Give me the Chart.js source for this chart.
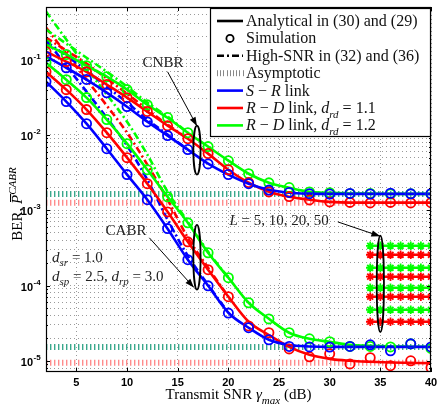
<!DOCTYPE html>
<html><head><meta charset="utf-8">
<script src="https://cdn.jsdelivr.net/npm/chart.js@4.4.1/dist/chart.umd.min.js"></script>
<style>html,body{margin:0;padding:0;background:#fff}canvas{display:block}</style>
</head><body>
<canvas id="c" width="438" height="406"></canvas>
<script>
// transmit SNR grid (dB)
const snrDb = [2,4,6,8,10,12,14,16,18,20,22,24,26,28,30,32,34,36,38,40];
const hiSnrDb = [2,4,6,8,10,12,14,16,18,20];

// CNBR analytical
const cnbrSR   = [0.110,0.078,0.0542,0.0364,0.0237,0.0150,0.00977,0.00637,0.00416,0.00297,0.00225,0.00187,0.00171,0.00166,0.00165,0.00165,0.00165,0.00165,0.00165,0.00165];
const cnbrRD11 = [0.128,0.094,0.069,0.0466,0.0313,0.0204,0.0133,0.00891,0.00564,0.00345,0.00232,0.00176,0.00151,0.00138,0.00129,0.00126,0.00126,0.00126,0.00126,0.00126];
const cnbrRD12 = [0.158,0.117,0.083,0.0594,0.0399,0.0252,0.0169,0.0107,0.00698,0.00455,0.00305,0.00232,0.00199,0.00176,0.00170,0.00167,0.00166,0.00165,0.00165,0.00165];
// CABR analytical
const cabrSR   = [0.0511,0.0277,0.0141,0.00656,0.00297,0.00138,5.68e-4,2.20e-4,9.93e-5,4.35e-5,2.75e-5,1.90e-5,1.62e-5,1.55e-5,1.53e-5,1.53e-5,1.53e-5,1.53e-5,1.53e-5,1.53e-5];
const cabrRD11 = [0.069,0.0399,0.0217,0.0107,0.00499,0.00225,9.55e-4,3.81e-4,1.62e-4,7.09e-5,3.3e-5,2.2e-5,1.53e-5,1.20e-5,1.06e-5,1.0e-5,9.7e-6,9.5e-6,9.4e-6,9.3e-6];
const cabrRD12 = [0.0912,0.0542,0.0313,0.0160,0.00766,0.00345,0.00151,6.83e-4,2.72e-4,1.27e-4,5.90e-5,3.62e-5,2.36e-5,1.96e-5,1.79e-5,1.63e-5,1.58e-5,1.55e-5,1.54e-5,1.53e-5];

// simulation markers
const simCnbrSR   = [0.110,0.078,0.0545,0.0362,0.0238,0.0149,0.0098,0.0064,0.00412,0.00298,0.00225,0.00185,0.00172,0.00166,0.00164,0.00167,0.00164,0.00168,0.00165,0.00166];
const simCnbrRD11 = [0.128,0.094,0.0688,0.0468,0.0312,0.0205,0.0132,0.0089,0.00566,0.00344,0.00233,0.00175,0.00152,0.00137,0.00129,0.00127,0.00125,0.00127,0.00125,0.00126];
const simCnbrRD12 = [0.158,0.117,0.0832,0.0592,0.0400,0.0251,0.0170,0.0107,0.00700,0.00453,0.00306,0.00231,0.00200,0.00175,0.00171,0.00166,0.00167,0.00164,0.00166,0.00164];
const simCabrSR   = [0.0511,0.0277,0.0141,0.00656,0.00297,0.00138,5.7e-4,2.2e-4,9.9e-5,4.3e-5,2.75e-5,1.9e-5,1.55e-5,1.53e-5,1.52e-5,1.55e-5,1.63e-5,1.36e-5,1.68e-5,1.53e-5];
const simCabrRD11 = [0.069,0.0399,0.0217,0.0107,0.00499,0.00225,9.5e-4,3.8e-4,1.62e-4,7.1e-5,2.9e-5,2.36e-5,1.44e-5,1.13e-5,1.24e-5,9.1e-6,1.10e-5,8.6e-6,1.0e-5,8.1e-6];
const simCabrRD12 = [0.0912,0.0542,0.0313,0.0160,0.00766,0.00345,0.00151,6.8e-4,2.72e-4,1.27e-4,5.9e-5,3.6e-5,2.36e-5,1.96e-5,1.79e-5,1.55e-5,1.55e-5,1.53e-5,1.68e-5,1.46e-5];

// high-SNR approximations
const hiCnbrSR   = [0.173,0.113,0.0714,0.0438,0.0269,0.0160,0.0101,0.00637];
const hiCnbrRD11 = [0.196,0.132,0.0885,0.0560,0.0353,0.0217,0.0137,0.00891];
const hiCnbrRD12 = [0.251,0.163,0.106,0.069,0.0438,0.0269,0.0175,0.0107];
const hiCabrSR   = [0.185,0.083,0.0376,0.0169,0.00719,0.00254,7.48e-4,2.48e-4,1.02e-4,4.35e-5];
const hiCabrRD11 = [0.266,0.120,0.0542,0.0245,0.0107,0.00403,0.00138,4.31e-4,1.72e-4,7.09e-5];
const hiCabrRD12 = [0.435,0.185,0.078,0.0343,0.0150,0.00547,0.00176,7.03e-4,2.81e-4,1.27e-4];

// asymptotic floors
const asymX = [2, 40];
const asymCnbr = [1.64e-3, 1.26e-3];   // S-R & d_rd=1.2, d_rd=1.1
const asymCabr = [1.53e-5, 9.4e-6];

// L = 5, 10, 20, 50 cluster
const clusterX = [34,35,36,37,38,39,40];
const clusterRD12 = [3.37e-4, 1.72e-4, 9.33e-5, 4.76e-5];
const clusterRD11 = [2.56e-4, 1.31e-4, 7.09e-5, 3.30e-5];

// ticks
const xTicks = [5,10,15,20,25,30,35,40];
const yDecades = [1e-5,1e-4,1e-3,1e-2,1e-1];
const yExpLabels = ['-5','-4','-3','-2','-1'];
const yMin = 7.1e-6, yMax = 0.5;

const BLUE = '#0000ff', RED = '#ff0000', GREEN = '#00ff00';
const TEAL = '#3aa88c', PINK = '#ff8c8c';
const SERIF = '"Liberation Serif","Times New Roman",serif';
const SANS = '"Liberation Sans",Arial,sans-serif';

const xy = (xs, ys) => ys.map((v, i) => ({x: xs[i], y: v}));
const flat = (xs, v) => xs.map(x => ({x, y: v}));

function solid(ys, c) {
  return {data: xy(snrDb, ys), borderColor: c, borderWidth: 2.6, pointRadius: 0, cubicInterpolationMode: 'monotone', order: 2};
}
function sim(ys, c) {
  return {data: xy(snrDb, ys), showLine: false, borderColor: c, backgroundColor: 'rgba(0,0,0,0)', pointRadius: 4.6, pointBorderWidth: 1.8, order: 0};
}
function hi(ys, c) {
  return {data: xy(hiSnrDb, ys), borderColor: c, borderWidth: 2.6, borderDash: [7,3,2,3], pointRadius: 0, cubicInterpolationMode: 'monotone', order: 3};
}
function asym(v, c) {
  return {data: flat(asymX, v), borderColor: c, borderWidth: 6, borderDash: [1.4, 2.6], borderCapStyle: 'butt', pointRadius: 0, order: 4};
}
function cluster(v, c) {
  return {data: flat(clusterX, v), borderColor: c, borderWidth: 2.6, pointStyle: 'star', pointRadius: 4.2, pointBorderWidth: 1.8, order: 1};
}

const datasets = [
  asym(asymCnbr[0], TEAL), asym(asymCnbr[1], PINK), asym(asymCabr[0], TEAL), asym(asymCabr[1], PINK),
  hi(hiCnbrSR.slice(), BLUE), hi(hiCnbrRD11, RED), hi(hiCnbrRD12, GREEN),
  hi(hiCabrSR, BLUE), hi(hiCabrRD11, RED), hi(hiCabrRD12, GREEN),
  solid(cnbrSR, BLUE), solid(cnbrRD11, RED), solid(cnbrRD12, GREEN),
  solid(cabrSR, BLUE), solid(cabrRD11, RED), solid(cabrRD12, GREEN),
  sim(simCnbrSR, BLUE), sim(simCnbrRD11, RED), sim(simCnbrRD12, GREEN),
  sim(simCabrSR, BLUE), sim(simCabrRD11, RED), sim(simCabrRD12, GREEN)
];
clusterRD12.forEach(v => datasets.push(cluster(v, GREEN)));
clusterRD11.forEach(v => datasets.push(cluster(v, RED)));

// rich text: n normal, i italic, b italic subscript, p italic superscript, o italic overlined
function rich(ctx, x, y, parts, size, align) {
  const fontOf = k => (k === 'n' ? '' : 'italic ') + ((k === 'b' || k === 'p') ? Math.round(size * 0.7) : size) + 'px ' + SERIF;
  let w = 0;
  for (const [t, k] of parts) { ctx.font = fontOf(k); w += ctx.measureText(t).width; }
  let cx = align === 'center' ? x - w / 2 : x;
  ctx.textAlign = 'left'; ctx.textBaseline = 'alphabetic';
  for (const [t, k] of parts) {
    ctx.font = fontOf(k);
    const dy = k === 'b' ? size * 0.3 : k === 'p' ? -size * 0.42 : 0;
    ctx.fillText(t, cx, y + dy);
    const tw = ctx.measureText(t).width;
    if (k === 'o') { ctx.fillRect(cx + 2, y - size * 0.8, tw - 1, 1.1); }
    cx += tw;
  }
  return w;
}

function arrow(ctx, x0, y0, x1, y1) {
  ctx.beginPath(); ctx.moveTo(x0, y0); ctx.lineTo(x1, y1); ctx.stroke();
  const a = Math.atan2(y1 - y0, x1 - x0), L = 9, W = 3.2;
  ctx.beginPath();
  ctx.moveTo(x1, y1);
  ctx.lineTo(x1 - L * Math.cos(a) + W * Math.sin(a), y1 - L * Math.sin(a) - W * Math.cos(a));
  ctx.lineTo(x1 - L * Math.cos(a) - W * Math.sin(a), y1 - L * Math.sin(a) + W * Math.cos(a));
  ctx.closePath(); ctx.fill();
}

const decor = {
  id: 'decor',
  beforeDraw(chart) {
    const ctx = chart.ctx;
    ctx.save(); ctx.fillStyle = '#fff'; ctx.fillRect(0, 0, chart.width, chart.height); ctx.restore();
  },
  afterDraw(chart) {
    const {ctx, chartArea: a, scales: {x, y}} = chart;
    ctx.save();
    ctx.strokeStyle = '#000'; ctx.fillStyle = '#000'; ctx.lineWidth = 1;

    // inward ticks
    ctx.beginPath();
    xTicks.forEach(v => {
      const px = Math.round(x.getPixelForValue(v)) + 0.5;
      ctx.moveTo(px, a.bottom); ctx.lineTo(px, a.bottom - 4);
      ctx.moveTo(px, a.top); ctx.lineTo(px, a.top + 4);
    });
    y.ticks.forEach(t => {
      const py = Math.round(y.getPixelForValue(t.value)) + 0.5;
      const len = yDecades.includes(t.value) ? 4 : 2;
      ctx.moveTo(a.left, py); ctx.lineTo(a.left + len, py);
      ctx.moveTo(a.right, py); ctx.lineTo(a.right - len, py);
    });
    ctx.stroke();

    // frame
    ctx.lineWidth = 1.2;
    ctx.strokeRect(Math.round(a.left) + 0.5, Math.round(a.top) + 0.5, Math.round(a.width) - 1, Math.round(a.height) - 1);

    // tick labels
    ctx.textAlign = 'center'; ctx.textBaseline = 'middle';
    ctx.font = 'bold 11px ' + SANS;
    xTicks.forEach(v => ctx.fillText(String(v), x.getPixelForValue(v), a.bottom + 11));
    yDecades.forEach((v, i) => {
      const py = y.getPixelForValue(v);
      ctx.textAlign = 'right'; ctx.font = 'bold 11px ' + SANS;
      ctx.fillText('10', a.left - 13, py + 2);
      ctx.textAlign = 'left'; ctx.font = 'bold 8px ' + SANS;
      ctx.fillText(yExpLabels[i], a.left - 12.5, py - 3);
    });

    // axis titles
    rich(ctx, (a.left + a.right) / 2, a.bottom + 27, [['Transmit SNR ', 'n'], ['γ', 'i'], ['max', 'b'], [' (dB)', 'n']], 15, 'center');
    ctx.save();
    ctx.translate(22, 204); ctx.rotate(-Math.PI / 2);
    rich(ctx, 0, 0, [['BER, ', 'n'], ['P', 'o'], ['CABR', 'p']], 15, 'center');
    ctx.restore();

    // ellipses
    ctx.lineWidth = 1.8;
    const ell = (xv, yt, yb) => {
      const px = x.getPixelForValue(xv), pt = y.getPixelForValue(yt), pb = y.getPixelForValue(yb);
      ctx.beginPath(); ctx.ellipse(px, (pt + pb) / 2, 3.6, (pb - pt) / 2, 0, 0, Math.PI * 2); ctx.stroke();
    };
    ell(16.9, 0.0133, 0.00297);
    ell(16.9, 6.4e-4, 8.8e-5);
    ell(35, 4.6e-4, 2.4e-5);

    // arrows
    ctx.lineWidth = 1;
    const P = (xv, yv) => [x.getPixelForValue(xv), y.getPixelForValue(yv)];
    arrow(ctx, ...P(14.0, 0.069), ...P(16.9, 0.0131));
    arrow(ctx, ...P(12.2, 4.3e-4), ...P(16.6, 9.4e-5));
    arrow(ctx, ...P(30.8, 7.0e-4), ...P(35, 4.5e-4));

    // annotation texts
    ctx.fillStyle = '#222';
    const T = (xv, yv) => [x.getPixelForValue(xv), y.getPixelForValue(yv)];
    let p = T(13.55, 0.094); rich(ctx, p[0], p[1] + 5, [['CNBR', 'n']], 15, 'center');
    p = T(9.9, 5.5e-4); rich(ctx, p[0], p[1] + 5, [['CABR', 'n']], 15, 'center');
    p = T(20.1, 7.5e-4); rich(ctx, p[0], p[1] + 5, [['L', 'i'], [' = 5, 10, 20, 50', 'n']], 15, 'left');
    p = T(2.6, 2.41e-4); rich(ctx, p[0], p[1] + 5, [['d', 'i'], ['sr', 'b'], [' = 1.0', 'n']], 15, 'left');
    p = T(2.6, 1.35e-4); rich(ctx, p[0], p[1] + 5, [['d', 'i'], ['sp', 'b'], [' = 2.5, ', 'n'], ['d', 'i'], ['rp', 'b'], [' = 3.0', 'n']], 15, 'left');

    // legend
    const lx = a.right - 221, ly = a.top + 1, lw = 220, lh = 128;
    ctx.fillStyle = '#fff'; ctx.fillRect(lx, ly, lw, lh);
    ctx.strokeStyle = '#000'; ctx.lineWidth = 1.2;
    ctx.strokeRect(Math.round(lx) + 0.5, Math.round(ly) + 0.5, lw, lh);
    const rows = [
      {kind: 'line', c: '#000', t: [['Analytical in (30) and (29)', 'n']]},
      {kind: 'marker', c: '#000', t: [['Simulation', 'n']]},
      {kind: 'dash', c: '#000', t: [['High-SNR in (32) and (36)', 'n']]},
      {kind: 'asym', c: '#888', t: [['Asymptotic', 'n']]},
      {kind: 'line', c: BLUE, t: [['S', 'i'], [' − ', 'n'], ['R', 'i'], [' link', 'n']]},
      {kind: 'line', c: RED, t: [['R', 'i'], [' − ', 'n'], ['D', 'i'], [' link, ', 'n'], ['d', 'i'], ['rd', 'b'], [' = 1.1', 'n']]},
      {kind: 'line', c: GREEN, t: [['R', 'i'], [' − ', 'n'], ['D', 'i'], [' link, ', 'n'], ['d', 'i'], ['rd', 'b'], [' = 1.2', 'n']]}
    ];
    const sx0 = lx + 7, sx1 = lx + 33;
    rows.forEach((r, i) => {
      const cy = ly + 13 + i * 17.4;
      ctx.strokeStyle = r.c; ctx.fillStyle = r.c; ctx.lineWidth = 2.6; ctx.setLineDash([]);
      if (r.kind === 'line') {
        ctx.beginPath(); ctx.moveTo(sx0, cy); ctx.lineTo(sx1, cy); ctx.stroke();
      } else if (r.kind === 'dash') {
        ctx.setLineDash([7, 3, 2, 3]);
        ctx.beginPath(); ctx.moveTo(sx0, cy); ctx.lineTo(sx1, cy); ctx.stroke();
        ctx.setLineDash([]);
      } else if (r.kind === 'marker') {
        ctx.lineWidth = 1.8;
        ctx.beginPath(); ctx.arc((sx0 + sx1) / 2, cy, 3.6, 0, Math.PI * 2); ctx.stroke();
      } else {
        for (let xx = sx0; xx < sx1; xx += 3.2) ctx.fillRect(Math.round(xx), cy - 3, 1, 6);
      }
      ctx.fillStyle = '#111';
      rich(ctx, lx + 36, cy + 5, r.t, 16, 'left');
    });
    ctx.restore();
  }
};

new Chart(document.getElementById('c'), {
  type: 'line',
  data: {datasets},
  options: {
    responsive: false,
    animation: false,
    devicePixelRatio: 1,
    events: [],
    layout: {padding: {left: 46, right: 7, top: 7, bottom: 34}},
    plugins: {legend: {display: false}, tooltip: {enabled: false}},
    scales: {
      x: {
        type: 'linear', min: 2, max: 40,
        afterBuildTicks: s => { s.ticks = xTicks.map(v => ({value: v})); },
        ticks: {display: false},
        grid: {color: '#9a9a9a', lineWidth: 1, drawTicks: false},
        border: {display: false, dash: [1, 3]}
      },
      y: {
        type: 'logarithmic', min: yMin, max: yMax,
        afterBuildTicks: s => {
          const t = [];
          for (let e = -6; e <= -1; e++) for (let m = 1; m <= 9; m++) {
            const v = +(m * Math.pow(10, e)).toPrecision(3);
            if (v >= yMin && v <= yMax) t.push({value: v});
          }
          s.ticks = t;
        },
        ticks: {display: false},
        grid: {color: '#9a9a9a', lineWidth: 1, drawTicks: false},
        border: {display: false, dash: [1, 3]}
      }
    }
  },
  plugins: [decor]
});
</script>
</body></html>
